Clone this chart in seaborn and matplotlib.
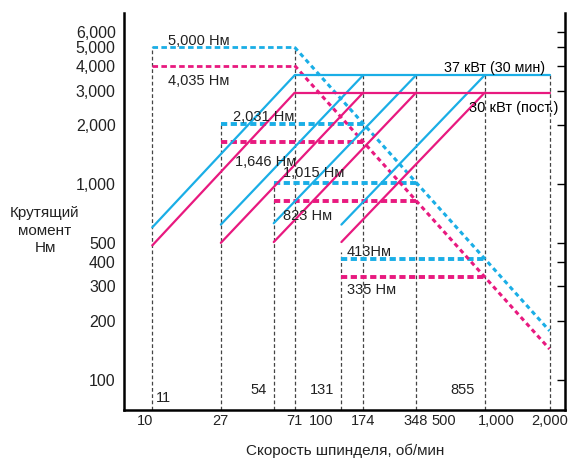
import numpy as np
import pandas as pd
import seaborn as sns
import matplotlib.pyplot as plt
from matplotlib.ticker import FixedLocator, NullLocator

# gear ranges: start speed, base speed (where constant power starts)
gear_start = [11, 27, 54, 131]
gear_base = [71, 174, 348, 855]
max_speed = 2000

# torque, Nm
torque_30min = [5000, 2031, 1015, 413]
torque_cont = [4035, 1646, 823, 335]

# power curves drawn on the same scale
power_30min_start = [600, 620, 630, 620]
power_cont_start = [485, 500, 505, 505]
power_30min_level = 3600
power_cont_level = 2930

# vertical guide lines: speed and top value
guide_speed = [11, 27, 54, 71, 131, 174, 348, 855, 2000]
guide_top = [5000, 2031, 1015, 5000, 450, 3600, 3600, 3600, 3600]

xticks = [10, 27, 71, 100, 174, 348, 500, 1000, 2000]
yticks = [100, 200, 300, 400, 500, 1000, 2000, 3000, 4000, 5000, 6000]

blue = '#1AAEE6'
pink = '#E8197F'

sns.set_style('white')
plt.rcParams['font.family'] = ['Liberation Sans', 'DejaVu Sans']

fig = plt.figure(figsize=(5.69, 4.61), dpi=100)
ax = fig.add_axes([0.218, 0.111, 0.775, 0.861])
ax.set_xscale('log')
ax.set_yscale('log')
ymin, ymax = 70, 7500
ax.set_xlim(7.6, 2450)
ax.set_ylim(ymin, ymax)

# guide lines
for s, top in zip(guide_speed, guide_top):
    ax.plot([s, s], [ymin, top], color='#444444', lw=0.9, ls=(0, (3, 2)), zorder=1)


def seg(x, y, color, lw, ls):
    d = pd.DataFrame({'x': x, 'y': y})
    sns.lineplot(data=d, x='x', y='y', ax=ax, color=color, lw=lw, ls=ls,
                 sort=False, estimator=None, zorder=3)


# constant torque lines (dashed)
for i in range(4):
    lw = 2.0 if i == 0 else 2.8
    dash = (0, (2.0, 1.2)) if i == 0 else (0, (1.6, 0.9))
    seg([gear_start[i], gear_base[i]], [torque_30min[i]] * 2, blue, lw, dash)
    seg([gear_start[i], gear_base[i]], [torque_cont[i]] * 2, pink, lw, dash)

# constant power region of torque (T ~ 1/n)
sp = np.array([gear_base[0], max_speed])
seg(sp, torque_30min[0] * gear_base[0] / sp, blue, 2.2, (0, (1.5, 1.2)))
seg(sp, torque_cont[0] * gear_base[0] / sp, pink, 2.2, (0, (1.5, 1.2)))

# power lines
for i in range(4):
    seg([gear_start[i], gear_base[i]], [power_30min_start[i], power_30min_level], blue, 1.6, '-')
    seg([gear_start[i], gear_base[i]], [power_cont_start[i], power_cont_level], pink, 1.6, '-')
seg([gear_base[0], max_speed], [power_30min_level] * 2, blue, 1.6, '-')
seg([gear_base[0], max_speed], [power_cont_level] * 2, pink, 1.6, '-')

fs = 10.5
tc = '#222222'
ax.text(13.5, 5400, '5,000 Нм', fontsize=fs, color=tc, va='center')
ax.text(13.5, 3380, '4,035 Нм', fontsize=fs, color=tc, va='center')
ax.text(31.7, 2210, '2,031 Нм', fontsize=fs, color=tc, va='center')
ax.text(32.5, 1300, '1,646 Нм', fontsize=fs, color=tc, va='center')
ax.text(61, 1140, '1,015 Нм', fontsize=fs, color=tc, va='center')
ax.text(61, 685, '823 Нм', fontsize=fs, color=tc, va='center')
ax.text(141, 450, '413Нм', fontsize=fs, color=tc, va='center')
ax.text(141, 287, '335 Нм', fontsize=fs, color=tc, va='center')
ax.text(1900, 3935, '37 кВт (30 мин)', fontsize=10.3, color='black', va='center', ha='right')
ax.text(700, 2455, '30 кВт (пост.)', fontsize=10.5, color='black', va='center')

ax.text(11.6, 80, '11', fontsize=fs, color=tc, va='center')
ax.text(49, 88, '54', fontsize=fs, color=tc, va='center', ha='right')
ax.text(119, 88, '131', fontsize=fs, color=tc, va='center', ha='right')
ax.text(756, 88, '855', fontsize=fs, color=tc, va='center', ha='right')

ax.xaxis.set_major_locator(FixedLocator(xticks))
ax.xaxis.set_minor_locator(NullLocator())
ax.set_xticklabels([f'{v:,}' for v in xticks])
ax.yaxis.set_major_locator(FixedLocator(yticks))
ax.yaxis.set_minor_locator(NullLocator())
ax.set_yticklabels([f'{v:,}' for v in yticks])
ax.tick_params(axis='both', which='major', direction='in', length=6, width=1,
               colors='black', labelcolor=tc)
ax.tick_params(axis='x', labelsize=10.5, pad=3)
ax.tick_params(axis='y', labelsize=11.5, pad=6, right=True, labelright=False)

for side in ['left', 'bottom', 'right']:
    ax.spines[side].set_linewidth(1.8)
    ax.spines[side].set_color('black')
ax.spines['top'].set_visible(False)
ax.set_xlabel('')
ax.set_ylabel('')

fig.text(0.079, 0.50, 'Крутящий\nмомент\nНм', ha='center', va='center',
         fontsize=11, color=tc, linespacing=1.3)
fig.text(0.606, 0.022, 'Скорость шпинделя, об/мин', ha='center', va='center',
         fontsize=11, color=tc)

fig.savefig('out.png', dpi=100)
